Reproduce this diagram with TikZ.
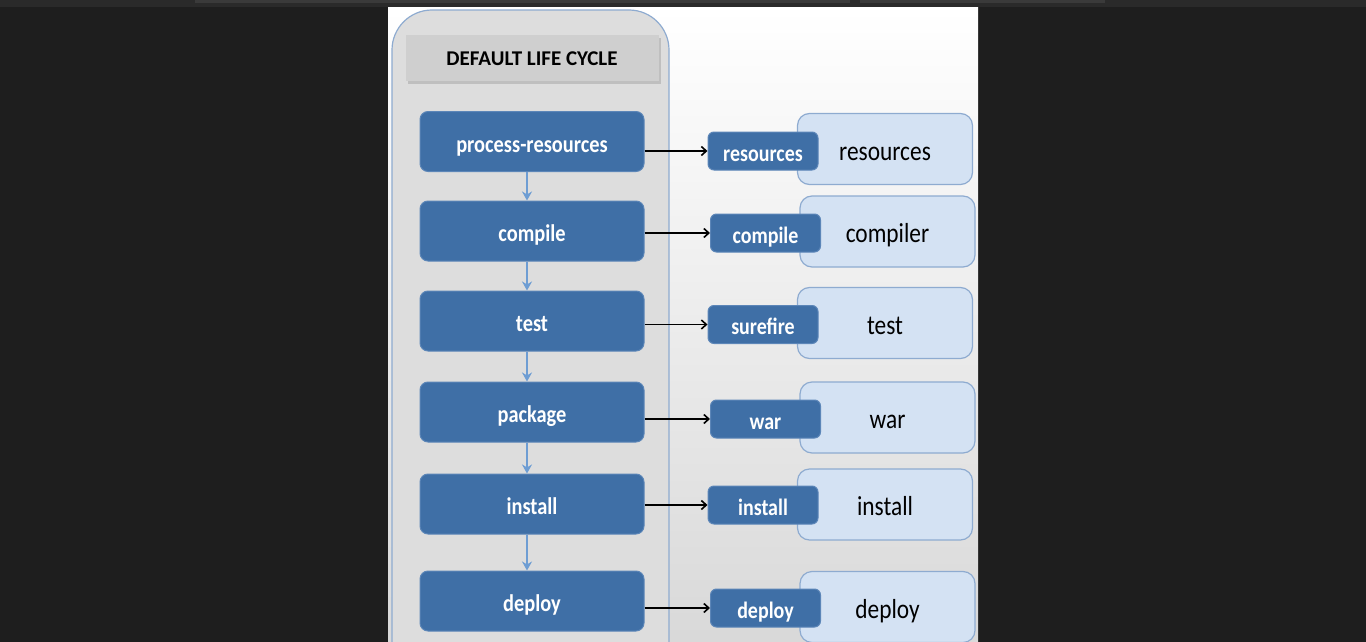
\documentclass[tikz,border=0pt]{standalone}
\usepackage{fontspec}
\setmainfont{Carlito}
\newfontfamily\boxfont[FakeStretch=0.85]{Carlito}
\usetikzlibrary{arrows.meta}

\definecolor{screen}{HTML}{1E1E1E}
\definecolor{topbar}{HTML}{2A2A2A}
\definecolor{tabbar}{HTML}{3A3A3A}
\definecolor{boxblue}{HTML}{3F6FA6}
\definecolor{boxedge}{HTML}{5C86B8}
\definecolor{flowblue}{HTML}{6E9DD3}
\definecolor{panelgray}{HTML}{DDDDDD}
\definecolor{paneledge}{HTML}{8EABD0}
\definecolor{titlegray}{HTML}{CFCFCF}
\definecolor{goalblue}{HTML}{D4E2F3}

% text sunk below the box centre by #1
\newcommand\sunk[2]{\raisebox{-#1}[0pt][0pt]{#2}}

\tikzset{
  phase/.style={draw=boxedge, fill=boxblue, rounded corners=8pt, line width=1pt,
    minimum width=224pt, minimum height=60pt, text=white,
    font=\boxfont\bfseries\fontsize{24}{26}\selectfont},
  plugin/.style={draw=boxedge, fill=boxblue, rounded corners=6pt, line width=1pt,
    minimum width=110pt, minimum height=38pt, text=white,
    font=\boxfont\bfseries\fontsize{23.5}{26}\selectfont},
  goal/.style={draw=paneledge, fill=goalblue, rounded corners=12pt, line width=1.2pt,
    minimum width=175pt, minimum height=71pt, text=black,
    font=\boxfont\fontsize{27.5}{30}\selectfont},
  flow/.style={flowblue, line width=2.6pt, -{Stealth[length=9pt,width=10pt]}},
  bind/.style={black, line width=1.6pt, -{Straight Barb[length=5pt,width=9pt]}}
}

\begin{document}
\begin{tikzpicture}[x=1pt,y=-1pt]
  \useasboundingbox (0,0) rectangle (1366,642);
  \clip (0,0) rectangle (1366,642);

  % screen and slide
  \fill[screen] (0,0) rectangle (1366,642);
  \fill[topbar] (0,0) rectangle (1366,7);
  \fill[tabbar] (195,0) rectangle (850,3);
  \fill[tabbar] (860,0) rectangle (1105,3);
  \shade[top color=white, bottom color=black!15] (388,8) rectangle (978,642);

  % lifecycle panel
  \draw[paneledge, fill=panelgray, line width=1.2pt, rounded corners=40pt]
    (392,10) rectangle (669,690);
  \fill[black!25] (408,38) rectangle (661,84);
  \node[fill=titlegray, minimum width=253pt, minimum height=46pt,
    font=\bfseries\fontsize{21}{23}\selectfont] (title) at (532,58) {\sunk{8pt}{DEFAULT LIFE CYCLE}};

  % phases
  \node[phase] (resPhase) at (532,141.5) {\sunk{10.6pt}{process-resources}};
  \node[phase] (compPhase) at (532,231) {\sunk{10.6pt}{compile}};
  \node[phase] (testPhase) at (532,321) {\sunk{10.6pt}{test}};
  \node[phase] (pkgPhase) at (532,412) {\sunk{10.6pt}{package}};
  \node[phase] (instPhase) at (532,504) {\sunk{10.6pt}{install}};
  \node[phase] (depPhase) at (532,601) {\sunk{10.6pt}{deploy}};

  \draw[flow] (resPhase.south -| 527,0) -- (compPhase.north -| 527,0);
  \draw[flow] (compPhase.south -| 527,0) -- (testPhase.north -| 527,0);
  \draw[flow] (testPhase.south -| 527,0) -- (pkgPhase.north -| 527,0);
  \draw[flow] (pkgPhase.south -| 527,0) -- (instPhase.north -| 527,0);
  \draw[flow] (instPhase.south -| 527,0) -- (depPhase.north -| 527,0);

  % goals
  \node[goal] (resGoal) at (885,149) {\sunk{11.4pt}{resources}};
  \node[goal] (compGoal) at (887.5,231.5) {\sunk{11.4pt}{compiler}};
  \node[goal] (testGoal) at (885,323) {\sunk{11.4pt}{test}};
  \node[goal] (warGoal) at (887.5,417.5) {\sunk{11.4pt}{war}};
  \node[goal] (instGoal) at (885,504.5) {\sunk{11.4pt}{install}};
  \node[goal] (depGoal) at (887.5,607) {\sunk{11.4pt}{deploy}};

  % plugins
  \node[plugin] (resPlug) at (763,151) {\sunk{10pt}{resources}};
  \node[plugin] (compPlug) at (765.5,233) {\sunk{10pt}{compile}};
  \node[plugin] (testPlug) at (763,324.5) {\sunk{10pt}{surefire}};
  \node[plugin] (warPlug) at (765.5,419) {\sunk{10pt}{war}};
  \node[plugin] (instPlug) at (763,505) {\sunk{10pt}{install}};
  \node[plugin] (depPlug) at (765.5,608) {\sunk{10pt}{deploy}};

  \draw[bind] (resPhase.east |- resPlug) -- (resPlug.west);
  \draw[bind] (compPhase.east |- compPlug) -- (compPlug.west);
  \draw[bind] (testPhase.east |- testPlug) -- (testPlug.west);
  \draw[bind] (pkgPhase.east |- warPlug) -- (warPlug.west);
  \draw[bind] (instPhase.east |- instPlug) -- (instPlug.west);
  \draw[bind] (depPhase.east |- depPlug) -- (depPlug.west);
\end{tikzpicture}
\end{document}
